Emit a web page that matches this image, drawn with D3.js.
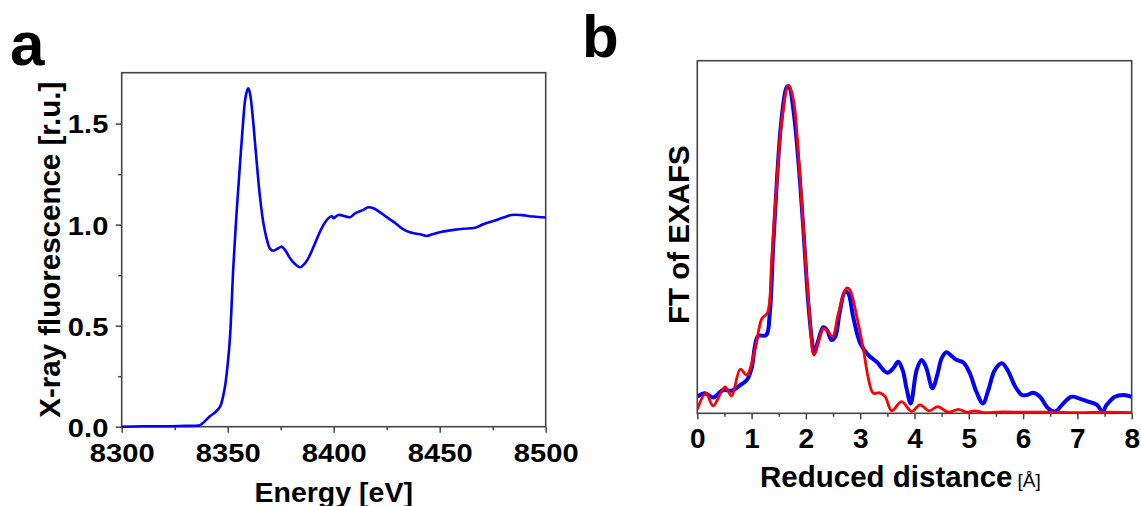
<!DOCTYPE html>
<html>
<head>
<meta charset="utf-8">
<script src="https://cdn.jsdelivr.net/npm/d3@7"></script>
<style>
  body { margin: 0; background: #fff; }
  text { font-family: "Liberation Sans", Arial, sans-serif; }
</style>
</head>
<body>
<svg id="fig" width="1141" height="506"></svg>
<script>
// Data *************************************************************************
// panel a: XANES, energy [eV] vs fluorescence [r.u.]
var xanesEnergy = [8300, 8310, 8320, 8330, 8335, 8337, 8339, 8341.6, 8344, 8346.4, 8348.7, 8350, 8351.1, 8352.7,
  8354.2, 8355.8, 8357.1, 8358.2, 8359.0, 8359.7, 8360.5, 8361.8, 8362.9, 8364.0, 8365.2, 8366.8, 8368.4, 8370.0,
  8371.5, 8373.9, 8375.5, 8377.0, 8379.4, 8381.8, 8384.1, 8386.5, 8388.8, 8391.2, 8394.3, 8397.5, 8399.1, 8399.8,
  8402.2, 8407.7, 8410.1, 8414.0, 8416.3, 8418.7, 8422.6, 8425.0, 8428.1, 8432.1, 8436.0, 8440.7, 8443.9, 8447.0,
  8451.0, 8456.5, 8461.2, 8466.7, 8470.6, 8475.3, 8480.0, 8484.0, 8488.7, 8494.2, 8500]
var xanesFluo = [0.0, 0.002, 0.002, 0.004, 0.005, 0.008, 0.025, 0.052, 0.07, 0.099, 0.198, 0.31, 0.446, 0.80,
  1.06, 1.30, 1.485, 1.617, 1.658, 1.675, 1.65, 1.535, 1.403, 1.271, 1.14, 1.01, 0.93, 0.88,
  0.871, 0.883, 0.891, 0.875, 0.834, 0.805, 0.789, 0.809, 0.85, 0.908, 0.982, 1.032, 1.043, 1.032,
  1.048, 1.037, 1.056, 1.073, 1.086, 1.081, 1.056, 1.037, 1.015, 0.982, 0.962, 0.952, 0.944, 0.954,
  0.965, 0.974, 0.98, 0.985, 1.002, 1.018, 1.035, 1.048, 1.047, 1.04, 1.035]

var energyTicks = [8300, 8350, 8400, 8450, 8500]
var energyMinor = [8325, 8375, 8425, 8475]
var fluoTicks = [0, 0.5, 1.0, 1.5]
var fluoMinor = [0.25, 0.75, 1.25]

// panel b: FT of EXAFS, experiment (blue) and fit (red), arbitrary units
var expR = [0, 0.14, 0.29, 0.48, 0.63, 0.79, 0.91, 1.0, 1.06, 1.12, 1.27, 1.33, 1.40, 1.47, 1.55, 1.65, 1.69,
  1.77, 1.86, 1.95, 2.04, 2.11, 2.15, 2.23, 2.32, 2.39, 2.47, 2.54, 2.62, 2.72, 2.78, 2.87, 3.00, 3.15, 3.30,
  3.50, 3.61, 3.70, 3.78, 3.86, 3.93, 4.04, 4.13, 4.21, 4.33, 4.42, 4.50, 4.59, 4.68, 4.78, 4.90, 5.02, 5.14,
  5.26, 5.36, 5.48, 5.61, 5.73, 5.85, 5.98, 6.07, 6.19, 6.31, 6.46, 6.59, 6.74, 6.89, 7.05, 7.20, 7.36, 7.46,
  7.54, 7.69, 7.85, 8.0]
var expFT = [0.047, 0.057, 0.045, 0.066, 0.064, 0.080, 0.094, 0.128, 0.189, 0.219, 0.222, 0.274, 0.482, 0.671,
  0.832, 0.926, 0.926, 0.86, 0.718, 0.529, 0.321, 0.208, 0.170, 0.208, 0.244, 0.236, 0.208, 0.217, 0.284,
  0.345, 0.340, 0.274, 0.199, 0.165, 0.146, 0.115, 0.128, 0.146, 0.123, 0.066, 0.028, 0.123, 0.151, 0.132,
  0.071, 0.109, 0.156, 0.173, 0.163, 0.151, 0.144, 0.113, 0.061, 0.028, 0.066, 0.123, 0.142, 0.118, 0.077,
  0.052, 0.052, 0.058, 0.047, 0.014, 0.005, 0.028, 0.047, 0.041, 0.033, 0.024, 0.005, 0.024, 0.047, 0.052, 0.047]

var fitR = [0, 0.16, 0.29, 0.51, 0.63, 0.79, 0.91, 1.06, 1.19, 1.29, 1.37, 1.46, 1.55, 1.68, 1.77, 1.86, 1.96,
  2.06, 2.15, 2.23, 2.32, 2.41, 2.49, 2.60, 2.75, 2.81, 2.94, 3.06, 3.15, 3.24, 3.36, 3.46, 3.58, 3.76, 3.95,
  4.10, 4.27, 4.43, 4.62, 4.81, 4.96, 5.11, 5.27, 5.6, 6.0, 6.5, 7.0, 7.5, 8.0]
var fitFT = [0.011, 0.057, 0.021, 0.075, 0.049, 0.125, 0.109, 0.180, 0.269, 0.284, 0.435, 0.643, 0.822, 0.931,
  0.889, 0.737, 0.510, 0.293, 0.165, 0.203, 0.241, 0.231, 0.217, 0.284, 0.355, 0.350, 0.272, 0.180, 0.099,
  0.057, 0.058, 0.047, 0.007, 0.033, 0.005, 0.024, 0.007, 0.019, 0.003, 0.011, 0.003, 0.007, 0.002, 0.004,
  0.003, 0.003, 0.002, 0.003, 0.002]

var rTicks = [0, 1, 2, 3, 4, 5, 6, 7, 8]
var rMinor = [0.5, 1.5, 2.5, 3.5, 4.5, 5.5, 6.5, 7.5]

// Layout ***********************************************************************
var svg = d3.select("#fig")
var frameCol = "#444"

var boxA = {x: 121.7, y: 72.7, w: 424, h: 354}
var boxB = {x: 697.3, y: 60.7, w: 434.4, h: 352.6}

// Panel a **********************************************************************
var xA = d3.scaleLinear().domain([8300, 8500]).range([boxA.x, boxA.x + boxA.w])
var yA = d3.scaleLinear().domain([0, 1.752]).range([boxA.y + boxA.h, boxA.y])

function styleAxis(g) {
  g.select(".domain").remove()
  g.selectAll("line").attr("stroke", frameCol).attr("stroke-width", 1.5)
}

// minor ticks
svg.append("g").attr("transform", "translate(0," + (boxA.y + boxA.h) + ")")
  .call(d3.axisBottom(xA).tickValues(energyMinor).tickSize(3.5).tickFormat(""))
  .call(styleAxis)
svg.append("g").attr("transform", "translate(" + boxA.x + ",0)")
  .call(d3.axisLeft(yA).tickValues(fluoMinor).tickSize(3.5).tickFormat(""))
  .call(styleAxis)

// major ticks + labels
var gxA = svg.append("g").attr("transform", "translate(0," + (boxA.y + boxA.h) + ")")
  .call(d3.axisBottom(xA).tickValues(energyTicks).tickSize(6).tickFormat(d3.format("d")))
  .call(styleAxis)
gxA.selectAll("text")
  .attr("y", 35).attr("dy", 0)
  .attr("transform", "scale(1.12,1)")
  .style("font-size", "26px").style("font-weight", "bold").attr("fill", "#000")

var gyA = svg.append("g").attr("transform", "translate(" + boxA.x + ",0)")
  .call(d3.axisLeft(yA).tickValues(fluoTicks).tickSize(6).tickFormat(d3.format(".1f")))
  .call(styleAxis)
gyA.selectAll("text")
  .attr("x", -13.4 / 1.12).attr("dy", "0.36em")
  .attr("transform", "scale(1.12,1)")
  .style("font-size", "26px").style("font-weight", "bold").attr("fill", "#000")

svg.append("rect")
  .attr("x", boxA.x).attr("y", boxA.y).attr("width", boxA.w).attr("height", boxA.h)
  .attr("fill", "none").attr("stroke", frameCol).attr("stroke-width", 1.6)

var lineA = d3.line()
  .x(function(d, i) { return xA(xanesEnergy[i]) })
  .y(function(d) { return yA(d) })
  .curve(d3.curveCatmullRom)

svg.append("path").datum(xanesFluo)
  .attr("d", lineA)
  .attr("fill", "none").attr("stroke", "#0000ff").attr("stroke-width", 2.6)
  .attr("stroke-linejoin", "round")

svg.append("text").attr("x", boxA.x + boxA.w / 2).attr("y", 501.5)
  .attr("text-anchor", "middle").style("font-size", "28.5px").style("font-weight", "bold")
  .text("Energy [eV]")

svg.append("text").attr("transform", "translate(60," + (boxA.y + boxA.h / 2) + ") rotate(-90)")
  .attr("text-anchor", "middle").style("font-size", "29.5px").style("font-weight", "bold")
  .text("X-ray fluorescence [r.u.]")

svg.append("text").attr("x", 10).attr("y", 65)
  .style("font-size", "62px").style("font-weight", "bold").text("a")

// Panel b **********************************************************************
var xB = d3.scaleLinear().domain([0, 8]).range([boxB.x, boxB.x + boxB.w])
var yB = d3.scaleLinear().domain([0, 1]).range([boxB.y + boxB.h, boxB.y])

svg.append("g").attr("transform", "translate(0," + (boxB.y + boxB.h) + ")")
  .call(d3.axisBottom(xB).tickValues(rMinor).tickSize(3.5).tickFormat(""))
  .call(styleAxis)

var gxB = svg.append("g").attr("transform", "translate(0," + (boxB.y + boxB.h) + ")")
  .call(d3.axisBottom(xB).tickValues(rTicks).tickSize(6).tickFormat(d3.format("d")))
  .call(styleAxis)
gxB.selectAll("text")
  .attr("y", 35).attr("dy", 0)
  .style("font-size", "28px").style("font-weight", "bold").attr("fill", "#000")

svg.append("rect")
  .attr("x", boxB.x).attr("y", boxB.y).attr("width", boxB.w).attr("height", boxB.h)
  .attr("fill", "none").attr("stroke", frameCol).attr("stroke-width", 1.6)

var clip = svg.append("clipPath").attr("id", "clipB").append("rect")
  .attr("x", boxB.x).attr("y", boxB.y - 5).attr("width", boxB.w).attr("height", boxB.h + 5)

var lineExp = d3.line()
  .x(function(d, i) { return xB(expR[i]) })
  .y(function(d) { return yB(d) })
  .curve(d3.curveCatmullRom)
var lineFit = d3.line()
  .x(function(d, i) { return xB(fitR[i]) })
  .y(function(d) { return yB(d) })
  .curve(d3.curveCatmullRom)

svg.append("path").datum(expFT).attr("d", lineExp).attr("clip-path", "url(#clipB)")
  .attr("fill", "none").attr("stroke", "#0000ff").attr("stroke-width", 4)
  .attr("stroke-linejoin", "round")
svg.append("path").datum(fitFT).attr("d", lineFit).attr("clip-path", "url(#clipB)")
  .attr("fill", "none").attr("stroke", "#ff0000").attr("stroke-width", 2.8)
  .attr("stroke-linejoin", "round")

var titleB = svg.append("text").attr("x", 760).attr("y", 486.5)
  .style("font-size", "29.5px").style("font-weight", "bold")
titleB.append("tspan").text("Reduced distance")
titleB.append("tspan").attr("dx", 5).style("font-size", "19px").style("font-weight", "normal").text("[Å]")

svg.append("text").attr("transform", "translate(689,234.7) rotate(-90)")
  .attr("text-anchor", "middle").style("font-size", "29.5px").style("font-weight", "bold")
  .text("FT of EXAFS")

svg.append("text").attr("x", 582).attr("y", 56.7)
  .style("font-size", "60px").style("font-weight", "bold").text("b")
</script>
</body>
</html>
